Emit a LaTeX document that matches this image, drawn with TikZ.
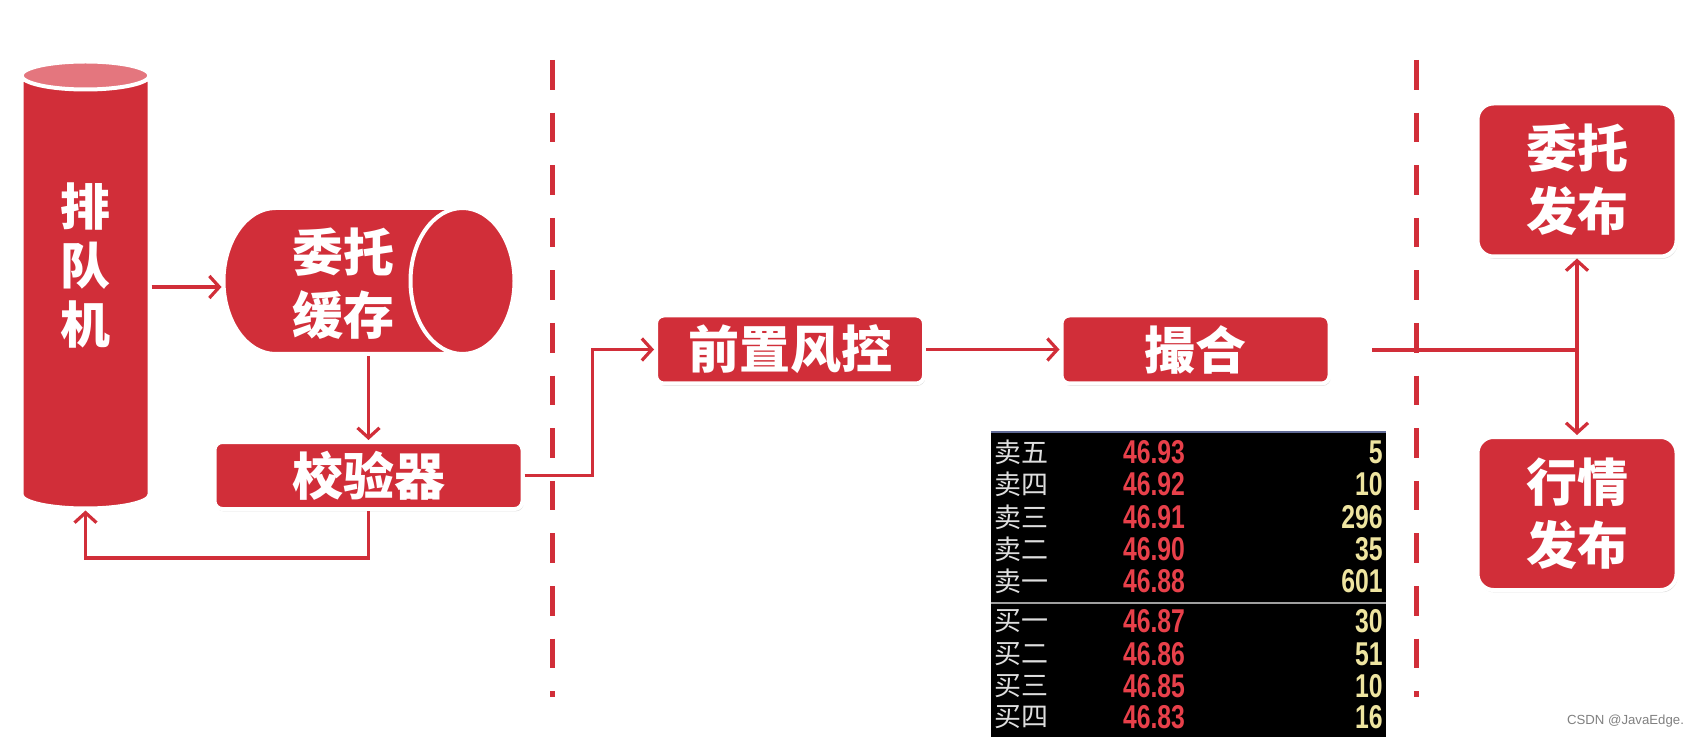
\documentclass[tikz,border=0pt]{standalone}
\usepackage{fontspec}
\setmainfont{Liberation Sans}
\newfontfamily\cjk{Noto Sans CJK SC}
\newfontfamily\digits{Liberation Sans}[FakeStretch=0.75]
\usetikzlibrary{arrows.meta,shapes.geometric,shadows}

\definecolor{boxred}{RGB}{209,46,57}
\definecolor{capred}{RGB}{228,118,126}
\definecolor{askgray}{RGB}{222,222,222}
\definecolor{pricered}{RGB}{232,64,74}
\definecolor{volyellow}{RGB}{238,228,160}
\definecolor{tabedge}{RGB}{96,106,150}

\tikzset{
  shade/.style={drop shadow={shadow xshift=0.6pt, shadow yshift=-1.2pt, opacity=0.25}},
  box/.style={draw=white, line width=2pt, fill=boxred, rounded corners=4pt, text=white,
    font=\cjk\bfseries\fontsize{25.5}{31.5}\selectfont, align=center, inner sep=0pt, shade},
  pubbox/.style={box, rounded corners=8pt},
  tank/.style={cylinder, draw=white, line width=2pt, cylinder uses custom fill,
    cylinder body fill=boxred, cylinder end fill=boxred, inner sep=10pt},
  tanktext/.style={text=white, font=\cjk\bfseries\fontsize{25.5}{31.5}\selectfont, align=center, inner sep=0pt},
  flow/.style={boxred, line width=1.6pt, -{Straight Barb[length=5pt,width=11pt]}},
  divider/.style={boxred, line width=2.5pt, dash pattern=on 14.8pt off 11.5pt},
  ask/.style={text=askgray, font=\cjk\fontsize{13.5}{14}\selectfont, inner sep=0pt},
  price/.style={text=pricered, font=\digits\bfseries\fontsize{16.5}{17}\selectfont, inner sep=0pt},
  vol/.style={text=volyellow, font=\digits\bfseries\fontsize{16.5}{17}\selectfont, inner sep=0pt}
}

\begin{document}
\begin{tikzpicture}[x=0.5pt,y=-0.5pt]
\useasboundingbox (0,0) rectangle (1707,737);

\draw[divider] (552,60) -- (552,697);
\draw[divider] (1416,60) -- (1416,697);

\node[tank, shape border rotate=90, aspect=0.7, cylinder end fill=capred,
  minimum width=64pt, minimum height=223.5pt, anchor=shape center] (queue) at (85.5,285) {};
\node[tanktext, font=\cjk\bfseries\fontsize{25}{29.5}\selectfont] (queue-txt) at (85.5,265.5) {排\\队\\机};
\node[tank, aspect=2.6, minimum width=73pt, minimum height=145.5pt, anchor=shape center] (cache) at (369,281) {};
\node[tanktext] (cache-txt) at (343,284) {委托\\缓存};
\node[box, minimum width=154pt, minimum height=33.5pt] (check) at (368.5,475.5) {校验器};
\node[box, minimum width=134pt, minimum height=34pt] (risk) at (790,349.5) {前置风控};
\node[box, minimum width=134pt, minimum height=34pt] (match) at (1195.5,349.5) {撮合};
\node[pubbox, minimum width=99.5pt, minimum height=76.5pt] (ordpub) at (1577,180) {委托\\发布};
\node[pubbox, minimum width=99.5pt, minimum height=76.5pt] (mktpub) at (1577,513.5) {行情\\发布};

\draw[flow] ([yshift=-3pt]queue.east |- cache.west) -- ([yshift=-3pt]cache.west);
\draw[flow] (check.north |- cache.south) -- (check.north);
\draw[flow] (check.south) -- ++(0,47) -| (queue.south);
\draw[flow] (check.east) -- ++(68,0) |- (risk.west);
\draw[flow] (risk) -- (match);

\coordinate (tap) at (1372,350);
\coordinate (fork) at (1577,350);
\draw[boxred, line width=1.6pt] (tap) -- (fork);
\draw[flow] (fork) -- (ordpub.south);
\draw[flow] (fork) -- (mktpub.north);

\fill[black] (991,432) rectangle (1386,737);
\draw[tabedge, line width=1pt] (991,432) -- (1386,432);
\draw[gray!75, line width=1pt] (991,603) -- (1386,603);
\foreach \lbl/\pr/\vl/\y [count=\i] in {卖五/46.93/5/452, 卖四/46.92/10/484, 卖三/46.91/296/517,
    卖二/46.90/35/549, 卖一/46.88/601/581, 买一/46.87/30/621, 买二/46.86/51/654,
    买三/46.85/10/686, 买四/46.83/16/717} {
  \node[ask, anchor=west] (lbl\i) at (994,\y) {\lbl};
  \node[price] (pr\i) at (1154,\y) {\pr};
  \node[vol, anchor=east] (vl\i) at (1383,\y) {\vl};
}

\node[anchor=east, text=gray, font=\fontsize{6.6}{8}\selectfont] (mark) at (1691,721) {CSDN @JavaEdge.};
\end{tikzpicture}
\end{document}
